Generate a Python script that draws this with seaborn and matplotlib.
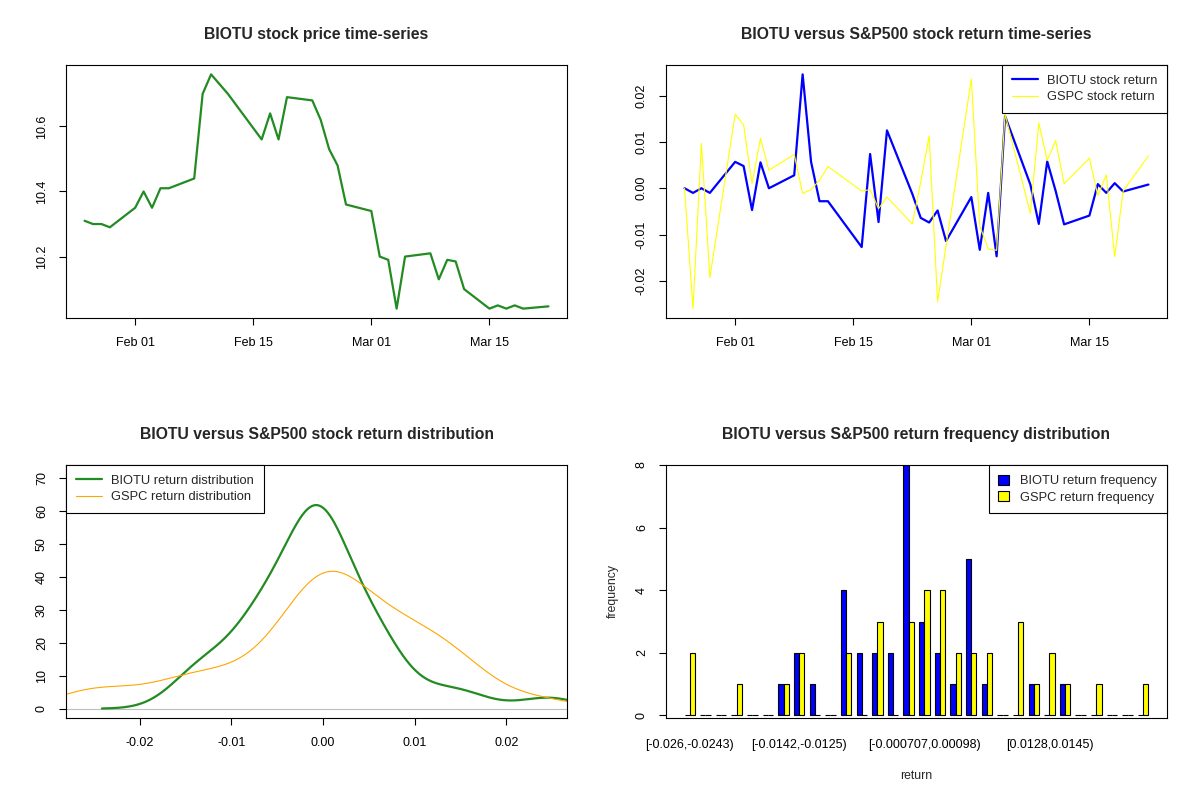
import numpy as np
import pandas as pd
import seaborn as sns
import matplotlib.pyplot as plt
import matplotlib.dates as mdates
from matplotlib.ticker import MultipleLocator, FormatStrFormatter
from matplotlib.patches import Patch

# data
trade_dates = [
    "2021-01-26", "2021-01-27", "2021-01-28", "2021-01-29",
    "2021-02-01", "2021-02-02", "2021-02-03", "2021-02-04", "2021-02-05",
    "2021-02-08", "2021-02-09", "2021-02-10", "2021-02-11", "2021-02-12",
    "2021-02-16", "2021-02-17", "2021-02-18", "2021-02-19",
    "2021-02-22", "2021-02-23", "2021-02-24", "2021-02-25", "2021-02-26",
    "2021-03-01", "2021-03-02", "2021-03-03", "2021-03-04", "2021-03-05",
    "2021-03-08", "2021-03-09", "2021-03-10", "2021-03-11", "2021-03-12",
    "2021-03-15", "2021-03-16", "2021-03-17", "2021-03-18", "2021-03-19",
    "2021-03-22",
]
biotu_price = [
    10.31, 10.30, 10.30, 10.29,
    10.35, 10.40, 10.35, 10.41, 10.41,
    10.44, 10.70, 10.76, 10.73, 10.70,
    10.56, 10.64, 10.56, 10.69,
    10.68, 10.62, 10.53, 10.48, 10.36,
    10.34, 10.20, 10.19, 10.04, 10.20,
    10.21, 10.13, 10.19, 10.185, 10.10,
    10.04, 10.05, 10.04, 10.05, 10.04,
    10.047,
]
biotu_return = [
    0.0, -0.0010, 0.0, -0.0010,
    0.0057, 0.0048, -0.0047, 0.0056, 0.0,
    0.0028, 0.0246, 0.0057, -0.0028, -0.0028,
    -0.0127, 0.0074, -0.0073, 0.0125,
    -0.0012, -0.0064, -0.0074, -0.0048, -0.0114,
    -0.0019, -0.0133, -0.0010, -0.0147, 0.0156,
    0.0008, -0.0077, 0.0058, -0.0006, -0.0078,
    -0.0059, 0.0009, -0.0010, 0.0011, -0.0007,
    0.0008,
]
gspc_return = [
    0.0, -0.0260, 0.0097, -0.0193,
    0.0160, 0.0137, 0.0010, 0.0108, 0.0039,
    0.0073, -0.0011, -0.0003, 0.0017, 0.0047,
    -0.0006, -0.0003, -0.0044, -0.0019,
    -0.0077, 0.0013, 0.0113, -0.0245, np.nan,
    0.0236, -0.0081, -0.0131, -0.0134, 0.0160,
    -0.0054, 0.0141, 0.0060, 0.0103, 0.0010,
    0.0065, -0.0016, 0.0029, -0.0148, -0.0006,
    0.0070,
]

hist_bins = list(range(30))
biotu_freq = [0, 0, 0, 0, 0, 0, 1, 2, 1, 0, 4, 2, 2, 2, 8,
              3, 2, 1, 5, 1, 0, 0, 1, 0, 1, 0, 0, 0, 0, 0]
gspc_freq = [2, 0, 0, 1, 0, 0, 1, 2, 0, 0, 2, 0, 3, 0, 3,
             4, 4, 2, 2, 2, 0, 3, 1, 2, 1, 0, 1, 0, 0, 1]
hist_tick_pos = [0, 7, 15, 23]
hist_tick_labels = ["[-0.026,-0.0243)", "[-0.0142,-0.0125)",
                    "[-0.000707,0.00098)", "[0.0128,0.0145)"]
density_ylim = (0, 71)
# smoothing of the two density curves, relative to R's bw.nrd0 on the read values
biotu_bw_adjust = 1.33
gspc_bw_adjust = 1.15

GREEN = "#228B22"


def nrd0_factor(x):
    # R's bw.nrd0 expressed as a factor of the sample sd (for gaussian_kde)
    x = np.asarray(x, dtype=float)
    sd = x.std(ddof=1)
    iqr = np.subtract(*np.percentile(x, [75, 25]))
    bw = 0.9 * min(sd, iqr / 1.34) * len(x) ** -0.2
    return bw / sd


def r_style(ax):
    for s in ax.spines.values():
        s.set_visible(True)
        s.set_color("black")
        s.set_linewidth(0.8)
    ax.set_xlabel("")
    ax.set_ylabel("")
    ax.tick_params(axis="y", labelrotation=90)
    for lab in ax.get_yticklabels():
        lab.set_va("center")


def r_legend(ax, loc, handles=None, labels=None, **kw):
    if handles is None:
        handles, labels = ax.get_legend_handles_labels()
    leg = ax.legend(handles, labels, loc=loc, borderaxespad=0, fancybox=False,
                    framealpha=1, edgecolor="black", fontsize=9.3,
                    borderpad=0.75, labelspacing=0.33, **kw)
    leg.get_frame().set_linewidth(0.8)
    return leg


sns.set_theme(style="ticks")
plt.rcParams["font.family"] = ["Liberation Sans", "DejaVu Sans"]
plt.rcParams.update({
    "axes.unicode_minus": False,
    "xtick.color": "black", "ytick.color": "black",
    "xtick.major.size": 5, "ytick.major.size": 5,
    "xtick.major.width": 0.8, "ytick.major.width": 0.8,
    "xtick.major.pad": 9, "ytick.major.pad": 8,
    "xtick.labelsize": 9, "ytick.labelsize": 9,
    "axes.labelsize": 8.8,
})

fig = plt.figure(figsize=(12, 8), dpi=100)
W, H = 1200, 800


def panel(left, top):
    return fig.add_axes([left / W, 1 - (top + 253) / H, 501 / W, 253 / H])


ax1 = panel(66, 65)
ax2 = panel(666, 65)
ax3 = panel(66, 465)
ax4 = panel(666, 465)

dates = pd.to_datetime(trade_dates)
title_kw = dict(fontsize=11.3, fontweight="bold", pad=18.5)

# 1. price time-series
price_df = pd.DataFrame({"date": dates, "price": biotu_price})
sns.lineplot(data=price_df, x="date", y="price", color=GREEN, linewidth=1.6, ax=ax1)
ax1.margins(x=0.04, y=0.04)
ax1.yaxis.set_major_locator(MultipleLocator(0.2))
ax1.yaxis.set_major_formatter(FormatStrFormatter("%.1f"))
ax1.set_title("BIOTU stock price time-series", **title_kw)

# 2. return time-series
ret_df = pd.DataFrame({"date": dates, "BIOTU": biotu_return, "GSPC": gspc_return})
sns.lineplot(data=ret_df, x="date", y="BIOTU", color="blue", linewidth=1.6,
             label="BIOTU stock return", ax=ax2)
sns.lineplot(data=ret_df.dropna(subset=["GSPC"]), x="date", y="GSPC", color="yellow",
             linewidth=0.8, label="GSPC stock return", ax=ax2)
ax2.margins(x=0.04, y=0.04)
ax2.yaxis.set_major_locator(MultipleLocator(0.01))
ax2.yaxis.set_major_formatter(FormatStrFormatter("%.2f"))
ax2.set_title("BIOTU versus S&P500 stock return time-series", **title_kw)
r_legend(ax2, "upper right", handlelength=2.0, handletextpad=0.7)

for ax in (ax1, ax2):
    ax.xaxis.set_major_locator(mdates.DayLocator(bymonthday=[1, 15]))
    ax.xaxis.set_major_formatter(mdates.DateFormatter("%b %d"))

# 3. return densities
gspc_valid = ret_df["GSPC"].dropna().to_numpy()
ax3.axhline(0, color="#BEBEBE", linewidth=0.8, zorder=0)
sns.kdeplot(x=biotu_return, bw_method=nrd0_factor(biotu_return), bw_adjust=biotu_bw_adjust,
            cut=3, gridsize=512, color=GREEN, linewidth=1.6,
            label="BIOTU return distribution", ax=ax3)
sns.kdeplot(x=gspc_valid, bw_method=nrd0_factor(gspc_valid), bw_adjust=gspc_bw_adjust,
            cut=3, gridsize=512, color="orange", linewidth=0.8,
            label="GSPC return distribution", ax=ax3)
all_ret = np.concatenate([biotu_return, gspc_valid])
lo, hi = all_ret.min(), all_ret.max()
pad = 0.04 * (hi - lo)
ax3.set_xlim(lo - pad, hi + pad)
ypad = 0.04 * (density_ylim[1] - density_ylim[0])
ax3.set_ylim(density_ylim[0] - ypad, density_ylim[1] + ypad)
ax3.xaxis.set_major_locator(MultipleLocator(0.01))
ax3.xaxis.set_major_formatter(FormatStrFormatter("%.2f"))
ax3.yaxis.set_major_locator(MultipleLocator(10))
ax3.set_title("BIOTU versus S&P500 stock return distribution", **title_kw)
r_legend(ax3, "upper left", handlelength=2.0, handletextpad=0.75)

# 4. frequency distribution
freq_df = pd.DataFrame({
    "bin": hist_bins * 2,
    "count": biotu_freq + gspc_freq,
    "series": ["BIOTU return frequency"] * len(hist_bins) + ["GSPC return frequency"] * len(hist_bins),
})
sns.barplot(data=freq_df, x="bin", y="count", hue="series", palette=["blue", "yellow"],
            saturation=1, width=2 / 3, gap=0, edgecolor="black", linewidth=0.8,
            legend=False, ax=ax4)
span = (len(hist_bins) - 1) + 2 / 3
ax4.set_xlim(-1 / 3 - 0.04 * span, len(hist_bins) - 1 + 1 / 3 + 0.04 * span)
ax4.set_ylim(-0.08, 8)
ax4.yaxis.set_major_locator(MultipleLocator(2))
ax4.set_xticks(hist_tick_pos)
ax4.set_xticklabels(hist_tick_labels)
ax4.tick_params(axis="x", length=0, pad=15)
ax4.set_title("BIOTU versus S&P500 return frequency distribution", **title_kw)
hist_handles = [Patch(facecolor="blue", edgecolor="black", linewidth=0.8),
                Patch(facecolor="yellow", edgecolor="black", linewidth=0.8)]
r_legend(ax4, "upper right", hist_handles,
         ["BIOTU return frequency", "GSPC return frequency"],
         handlelength=0.8, handleheight=0.8, handletextpad=0.9)

for ax in (ax1, ax2, ax3, ax4):
    r_style(ax)

ax4.set_ylabel("frequency", labelpad=12)
ax4.set_xlabel("return", labelpad=14)

fig.savefig("out.png", dpi=100, facecolor="white")
plt.close(fig)
